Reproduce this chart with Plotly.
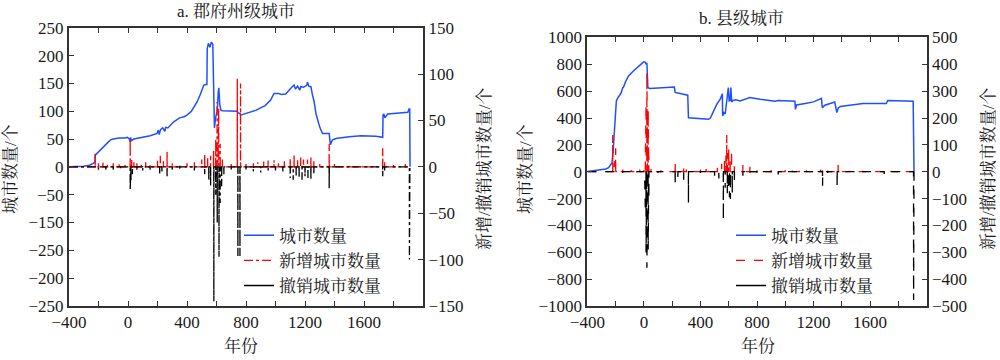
import plotly.graph_objects as go

# ---------------- data ----------------
x_tick_vals = [-400, -200, 0, 200, 400, 600, 800, 1000, 1200, 1400, 1600, 1800]
x_tick_text = ["−400", "", "0", "", "400", "", "800", "", "1200", "", "1600", ""]

# panel a: left-axis ticks (labels exactly as printed in the source figure)
a_left_vals = [250, 200, 150, 100, 50, 0, -50, -100, -150, -200, -250]
a_left_text = ["250", "200", "150", "100", "50", "0", "−50", "−150", "−250", "−200", "−250"]
a_right_vals = [150, 100, 50, 0, -50, -100, -150]
a_right_text = ["150", "100", "50", "0", "−50", "−100", "−150"]

b_left_vals = [1000, 800, 600, 400, 200, 0, -200, -400, -600, -800, -1000]
b_left_text = ["1000", "800", "600", "400", "200", "0", "−200", "−400", "−600", "−800", "−1000"]
b_right_vals = [500, 400, 300, 200, 100, 0, -100, -200, -300, -400, -500]
b_right_text = ["500", "400", "300", "200", "100", "0", "−100", "−200", "−300", "−400", "−500"]

# panel a: number of prefecture-level cities
a_count_years = [-400, -300, -260, -235, -224, -222, -200, -170, -150, -121, -100, -60, -20, -5, 10, 15, 18, 22,
                 40, 80, 106, 150, 197, 205, 212, 220, 235, 250, 255, 270, 310, 350, 380, 400, 430, 469, 490,
                 514, 530, 535, 537, 545, 555, 565, 575, 580, 586, 595, 605, 612, 616, 622, 630, 640, 700, 741,
                 745, 760, 763, 800, 831, 870, 899, 930, 967, 980, 990, 1020, 1040, 1069, 1090, 1110, 1126, 1135,
                 1150, 1165, 1171, 1190, 1210, 1217, 1225, 1240, 1250, 1262, 1275, 1290, 1296, 1305, 1319, 1364,
                 1368, 1372, 1385, 1410, 1500, 1580, 1680, 1727, 1729, 1735, 1742, 1760, 1800, 1897, 1905, 1910, 1912]
a_count_vals = [0, 1, 3, 6, 8, 21, 27, 35, 42, 48, 50, 52, 52, 53, 50, 45, 53, 47,
                50, 52, 54, 56, 60, 66, 58, 67, 70, 64, 71, 70, 81, 88, 90, 93, 100, 117, 130,
                147, 148, 148, 212, 222, 215, 224, 220, 160, 70, 90, 100, 135, 142, 112, 102, 101, 101, 100,
                97, 96, 93, 96, 99, 102, 106, 110, 120, 126, 132, 132, 130, 131, 138, 143, 147, 140,
                145, 138, 144, 143, 146, 152, 145, 144, 130, 117, 95, 78, 75, 68, 60, 60,
                45, 40, 48, 51, 54, 56, 55, 53, 93, 95, 88, 95, 96, 98, 104, 104, 0]

# panel a: new cities per year (right axis)
a_new_years = [-223, -200, -170, -140, -100, -60, -20, 15, 25, 40, 60, 90, 120, 150, 200, 219, 240, 265, 300,
               350, 400, 450, 500, 520, 540, 560, 580, 595, 604, 610, 615, 625, 640, 700, 741, 763, 800, 850,
               880, 920, 950, 990, 1020, 1060, 1100, 1126, 1150, 1171, 1190, 1217, 1240, 1260, 1300, 1364,
               1400, 1500, 1600, 1727, 1740, 1800, 1880]
a_new_vals = [14, 4, 5, 3, 4, 3, 3, 30, 8, 5, 4, 3, 5, 3, 8, 12, 6, 16, 4,
              3, 4, 5, 8, 14, 10, 12, 18, 30, 70, 55, 63, 25, 8, 3, 95, 90, 3, 4,
              5, 6, 8, 7, 5, 6, 9, 13, 7, 10, 8, 8, 10, 6, 3, 25,
              3, 2, 2, 20, 5, 2, 3]

# panel a: revoked cities per year (right axis, negative)
a_rev_years = [-200, -150, -100, -50, 15, 20, 30, 60, 100, 150, 215, 230, 265, 300, 350, 450, 520, 548, 560,
               582, 595, 605, 617, 625, 635, 650, 700, 745, 759, 800, 850, 900, 950, 1000, 1050, 1100, 1120,
               1140, 1160, 1180, 1200, 1220, 1240, 1260, 1364, 1400, 1727, 1740, 1908]
a_rev_vals = [-3, -4, -3, -2, -25, -15, -8, -3, -4, -3, -8, -5, -10, -3, -2, -4, -8, -14, -20,
              -145, -30, -60, -97, -39, -21, -8, -3, -96, -96, -4, -5, -6, -4, -5, -5, -12, -14,
              -10, -12, -14, -10, -12, -14, -8, -23, -2, -10, -4, -100]

# panel b: number of county-level cities
b_count_years = [-400, -350, -308, -270, -250, -235, -226, -218, -214, -208, -202, -195, -185, -167, -160, -150,
                 -144, -130, -109, -80, -49, -20, -2, 10, 15, 21, 24, 28, 40, 100, 186, 215, 221, 240, 280, 300,
                 310, 315, 360, 420, 456, 470, 491, 515, 540, 551, 555, 557, 565, 575, 590, 597, 603, 610, 615,
                 621, 630, 650, 680, 720, 750, 821, 900, 927, 950, 1000, 1068, 1072, 1080, 1150, 1200, 1256,
                 1262, 1280, 1320, 1350, 1365, 1375, 1390, 1450, 1550, 1650, 1715, 1725, 1760, 1850, 1905, 1911]
b_count_vals = [2, 10, 13, 20, 30, 50, 67, 150, 240, 350, 415, 527, 550, 577, 590, 625,
                630, 670, 713, 745, 776, 800, 818, 815, 800, 810, 700, 627, 620, 625, 630, 630, 590, 585, 580, 570,
                570, 402, 398, 395, 390, 400, 452, 502, 540, 577, 580, 415, 440, 430, 600, 627, 527, 530, 627,
                520, 530, 535, 527, 540, 552, 540, 530, 525, 530, 527, 525, 464, 497, 510, 520, 546,
                476, 495, 510, 519, 440, 475, 485, 495, 508, 508, 508, 530, 530, 525, 525, 0]

# panel b: new cities per year (right axis)
b_new_years = [-221, -210, -200, -180, -150, -120, -90, -60, -30, 0, 10, 15, 21, 25, 30, 35, 50, 80, 120, 160,
               221, 230, 281, 300, 350, 400, 440, 480, 520, 550, 570, 580, 586, 592, 600, 610, 620, 640, 700,
               750, 800, 900, 950, 1000, 1050, 1100, 1150, 1200, 1250, 1264, 1300, 1374, 1380, 1450, 1550,
               1700, 1750, 1800]
b_new_vals = [137, 40, 87, 10, 8, 12, 6, 5, 8, 15, 120, 250, 370, 300, 230, 60, 10, 6, 5, 4,
              37, 15, 25, 8, 5, 8, 10, 12, 15, 30, 40, 60, 137, 70, 87, 50, 80, 20, 25,
              25, 5, 6, 5, 6, 4, 5, 5, 6, 8, 10, 4, 25, 12, 3, 3,
              5, 3, 3]

# panel b: revoked cities per year (right axis, negative)
b_rev_years = [-150, -100, -50, 5, 10, 15, 21, 25, 30, 35, 60, 100, 221, 240, 281, 315, 350, 400, 450, 500,
               530, 562, 575, 590, 597, 605, 612, 625, 640, 700, 750, 800, 900, 950, 1000, 1100, 1200, 1264,
               1300, 1367, 1400, 1500, 1700, 1750, 1908]
b_rev_vals = [-5, -4, -3, -80, -150, -300, -358, -250, -290, -100, -8, -5, -48, -20, -30, -115, -6, -5, -10, -15,
              -25, -179, -60, -80, -67, -95, -102, -80, -40, -15, -10, -8, -5, -10, -6, -4, -8, -52,
              -5, -55, -5, -3, -8, -5, -478]

SERIES_NAMES = ["城市数量", "新增城市数量", "撤销城市数量"]
TITLES = ["a. 郡府州级城市", "b. 县级城市"]
LEFT_TITLE = "城市数量/个"
RIGHT_TITLE = "新增/撤销城市数量/个"
X_TITLE = "年份"

# ---------------- styling ----------------
FONT = "Liberation Serif, Noto Serif CJK SC, Noto Sans CJK SC, serif"
FS = 17
TXT = "#1a1a1a"
BLUE = "#1f4fff"
RED = "#ff0000"
BLACK = "#000000"
AXC = "#333333"


def spike_xy(years, vals, start=-400, end=1911):
    xs, ys = [start], [0]
    for yr, v in sorted(zip(years, vals)):
        xs += [yr - 0.5, yr, yr + 0.5]
        ys += [0, v, 0]
    xs.append(end)
    ys.append(0)
    return xs, ys


fig = go.Figure()


def add_panel(count_x, count_y, new_y, new_v, rev_y, rev_v, xa, ya, ya2, legend, dash):
    fig.add_trace(go.Scatter(x=count_x, y=count_y, mode="lines", name=SERIES_NAMES[0],
                             line=dict(color=BLUE, width=1.5), xaxis=xa, yaxis=ya, legend=legend))
    nx, ny = spike_xy(new_y, new_v)
    fig.add_trace(go.Scatter(x=nx, y=ny, mode="lines", name=SERIES_NAMES[1],
                             line=dict(color=RED, width=1.3, dash=dash), xaxis=xa, yaxis=ya2, legend=legend))
    rx, ry = spike_xy(rev_y, rev_v)
    fig.add_trace(go.Scatter(x=rx, y=ry, mode="lines", name=SERIES_NAMES[2], showlegend=False,
                             line=dict(color=BLACK, width=1.3, dash=dash), xaxis=xa, yaxis=ya2, legend=legend))
    fig.add_trace(go.Scatter(x=[None], y=[None], mode="lines", name=SERIES_NAMES[2],
                             line=dict(color=BLACK, width=1.5), xaxis=xa, yaxis=ya2, legend=legend))


add_panel(a_count_years, a_count_vals, a_new_years, a_new_vals, a_rev_years, a_rev_vals,
          "x", "y", "y2", "legend", "dashdot")
add_panel(b_count_years, b_count_vals, b_new_years, b_new_vals, b_rev_years, b_rev_vals,
          "x2", "y3", "y4", "legend2", "dash")

tickfont = dict(family=FONT, size=FS, color=TXT)
common_x = dict(range=[-400, 2000], tickmode="array", tickvals=x_tick_vals, ticktext=x_tick_text,
                ticks="inside", ticklen=5, tickwidth=1.2, tickcolor=AXC, showline=True, linecolor=AXC,
                linewidth=2, mirror="ticks", showgrid=False, zeroline=False, tickfont=tickfont,
                automargin=False)
common_y = dict(tickmode="array", ticks="inside", ticklen=5, tickwidth=1.2, tickcolor=AXC, showline=True,
                linecolor=AXC, linewidth=2, showgrid=False, zeroline=False, tickfont=tickfont,
                automargin=False)

A_X = [0.069, 0.423]
B_X = [0.5874, 0.9266]
A_Y = [0.15, 0.923]
B_Y = [0.15, 0.896]

fig.update_layout(
    width=1000, height=360,
    margin=dict(l=0, r=0, t=0, b=0, autoexpand=False),
    paper_bgcolor="white", plot_bgcolor="white",
    font=dict(family=FONT, size=FS, color=TXT),
    xaxis=dict(domain=A_X, anchor="y", **common_x),
    yaxis=dict(domain=A_Y, anchor="x", range=[-250, 250], tickvals=a_left_vals, ticktext=a_left_text, **common_y),
    yaxis2=dict(overlaying="y", anchor="x", side="right", range=[-150, 150], tickvals=a_right_vals,
                ticktext=a_right_text, **common_y),
    xaxis2=dict(domain=B_X, anchor="y3", **common_x),
    yaxis3=dict(domain=B_Y, anchor="x2", range=[-1000, 1000], tickvals=b_left_vals, ticktext=b_left_text,
                **common_y),
    yaxis4=dict(overlaying="y3", anchor="x2", side="right", range=[-500, 500], tickvals=b_right_vals,
                ticktext=b_right_text, **common_y),
    legend=dict(x=0.239, y=0.395, xanchor="left", yanchor="top", bgcolor="rgba(0,0,0,0)",
                font=dict(family=FONT, size=FS, color=TXT), tracegroupgap=0),
    legend2=dict(x=0.731, y=0.395, xanchor="left", yanchor="top", bgcolor="rgba(0,0,0,0)",
                 font=dict(family=FONT, size=FS, color=TXT), tracegroupgap=0),
    showlegend=True,
)

ann = []
ann.append(dict(text=TITLES[0], x=0.236, y=1 - 12 / 360, xref="paper", yref="paper", showarrow=False,
                xanchor="center", yanchor="middle", font=dict(size=FS)))
ann.append(dict(text=TITLES[1], x=0.741, y=1 - 18 / 360, xref="paper", yref="paper", showarrow=False,
                xanchor="center", yanchor="middle", font=dict(size=FS)))
for xc in [0.241, 0.758]:
    ann.append(dict(text=X_TITLE, x=xc, y=1 - 346 / 360, xref="paper", yref="paper", showarrow=False,
                    xanchor="center", yanchor="middle", font=dict(size=FS)))
for xc in [0.010, 0.525]:
    ann.append(dict(text=LEFT_TITLE, x=xc, y=1 - 169 / 360, xref="paper", yref="paper", showarrow=False,
                    textangle=-90, xanchor="center", yanchor="middle", font=dict(size=FS)))
for xc in [0.484, 0.988]:
    ann.append(dict(text=RIGHT_TITLE, x=xc, y=1 - 169 / 360, xref="paper", yref="paper", showarrow=False,
                    textangle=-90, xanchor="center", yanchor="middle", font=dict(size=FS)))
fig.update_layout(annotations=ann)

fig.write_html("out.html", config={"displayModeBar": False},
               post_script="document.body.style.margin='0';document.body.style.overflow='hidden';")
